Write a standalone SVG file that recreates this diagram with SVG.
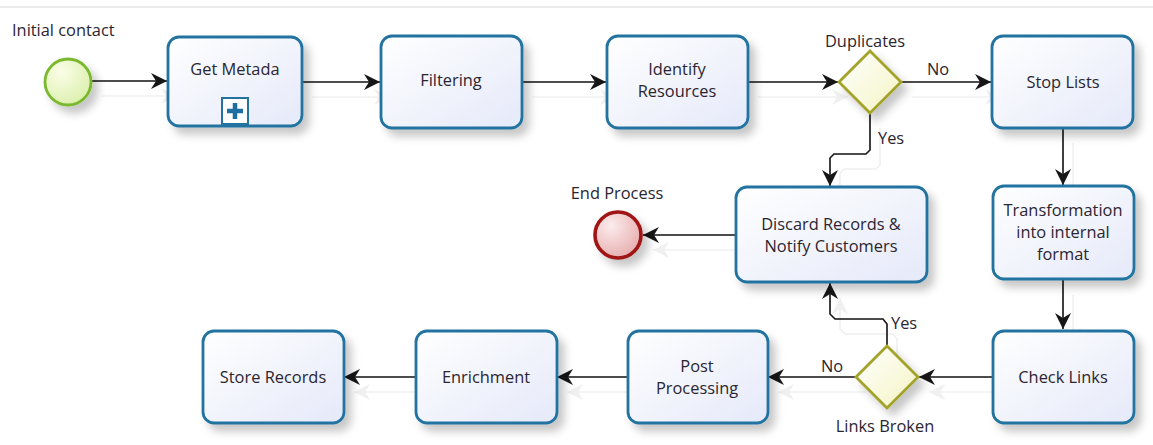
<svg xmlns="http://www.w3.org/2000/svg" width="1153" height="445" viewBox="0 0 1153 445">
<style>
.task{fill:url(#gTask);stroke:#23739f;stroke-width:2.8}
.gw{fill:url(#gGw);stroke:#a3a32c;stroke-width:2.8}
.lbl{font-family:"Open Sans","Noto Sans","Liberation Sans",sans-serif;font-size:16.4px;fill:#2b2530}
.c{text-anchor:middle}
.con{fill:none;stroke:#151515;stroke-width:1.6}
</style>
<defs>
<linearGradient id="gTask" x1="0" y1="0" x2="1" y2="1"><stop offset="0" stop-color="#ffffff"/><stop offset="1" stop-color="#e5e9f9"/></linearGradient>
<linearGradient id="gGw" x1="0" y1="0" x2="1" y2="1"><stop offset="0" stop-color="#ffffff"/><stop offset="1" stop-color="#f4f4c4"/></linearGradient>
<radialGradient id="gStart" cx="0.35" cy="0.3" r="0.8"><stop offset="0" stop-color="#fbfde8"/><stop offset="1" stop-color="#d9efa8"/></radialGradient>
<radialGradient id="gEnd" cx="0.35" cy="0.3" r="0.8"><stop offset="0" stop-color="#fbecec"/><stop offset="1" stop-color="#e6a9aa"/></radialGradient>
<filter id="sh" x="-20%" y="-20%" width="150%" height="160%">
<feGaussianBlur in="SourceAlpha" stdDeviation="4"/>
<feOffset dx="6" dy="7" result="b"/>
<feFlood flood-color="#000" flood-opacity="0.22"/>
<feComposite in2="b" operator="in" result="s"/>
<feMerge><feMergeNode in="s"/><feMergeNode in="SourceGraphic"/></feMerge>
</filter>
<filter id="csh" x="-10%" y="-10%" width="130%" height="140%">
<feOffset in="SourceAlpha" dx="10" dy="15" result="o"/>
<feFlood flood-color="#000" flood-opacity="0.06"/>
<feComposite in2="o" operator="in" result="s"/>
<feMerge><feMergeNode in="s"/><feMergeNode in="SourceGraphic"/></feMerge>
</filter>
<marker id="arr" markerUnits="userSpaceOnUse" markerWidth="18" markerHeight="16" refX="16" refY="8" orient="auto">
<path d="M0,0 L16,8 L0,16 L5,8 Z" fill="#151515"/>
</marker>
</defs>
<line x1="0" y1="7" x2="1153" y2="7" stroke="#d6d6d6" stroke-width="1.2"/>

<g id="connectors" filter="url(#csh)">
<path class="con" d="M92,81 H167" marker-end="url(#arr)"/>
<path class="con" d="M302,82 H380" marker-end="url(#arr)"/>
<path class="con" d="M522,82 H606" marker-end="url(#arr)"/>
<path class="con" d="M748,82 H838" marker-end="url(#arr)"/>
<path class="con" d="M902,82 H991" marker-end="url(#arr)"/>
<path class="con" d="M870,113 V150 L866,154 H834 L830,158 V186" marker-end="url(#arr)"/>
<path class="con" d="M1063,128 V185" marker-end="url(#arr)"/>
<path class="con" d="M1063,280 V329" marker-end="url(#arr)"/>
<path class="con" d="M992,377 H919" marker-end="url(#arr)"/>
<path class="con" d="M856,377 H768" marker-end="url(#arr)"/>
<path class="con" d="M887,346 V324 L883,319 H835 L830,314 V283" marker-end="url(#arr)"/>
<path class="con" d="M736,235 H643" marker-end="url(#arr)"/>
<path class="con" d="M628,377 H557" marker-end="url(#arr)"/>
<path class="con" d="M416,377 H344" marker-end="url(#arr)"/>
</g>

<g id="edge-labels">
<text class="lbl" x="927" y="75">No</text>
<text class="lbl" x="878" y="144">Yes</text>
<text class="lbl" x="821" y="372">No</text>
<text class="lbl" x="891" y="329">Yes</text>
</g>

<g id="start">
<circle cx="68" cy="82" r="23" fill="url(#gStart)" stroke="#7ab92f" stroke-width="2.8" filter="url(#sh)"/>
<text class="lbl" x="12" y="36">Initial contact</text>
</g>

<g id="get-metada">
<rect class="task" x="168" y="37" width="134" height="89" rx="11" filter="url(#sh)"/>
<text class="lbl c" x="235" y="75">Get Metada</text>
<rect x="222" y="98" width="26" height="26" fill="#ffffff" stroke="#23739f" stroke-width="2"/>
<path d="M235,103 V119 M227,111 H243" stroke="#1d6fa3" stroke-width="4.5"/>
</g>

<g id="filtering">
<rect class="task" x="381" y="36" width="141" height="92" rx="11" filter="url(#sh)"/>
<text class="lbl c" x="451" y="86">Filtering</text>
</g>

<g id="identify-resources">
<rect class="task" x="607" y="36" width="141" height="92" rx="11" filter="url(#sh)"/>
<text class="lbl c" x="677" y="75">Identify</text>
<text class="lbl c" x="677" y="97">Resources</text>
</g>

<g id="duplicates">
<path class="gw" d="M870,51 L901,82 L870,113 L839,82 Z" filter="url(#sh)"/>
<text class="lbl c" x="865" y="47">Duplicates</text>
</g>

<g id="stop-lists">
<rect class="task" x="992" y="36" width="141" height="92" rx="11" filter="url(#sh)"/>
<text class="lbl c" x="1063" y="88">Stop Lists</text>
</g>

<g id="transformation">
<rect class="task" x="993" y="186" width="141" height="93" rx="11" filter="url(#sh)"/>
<text class="lbl c" x="1063" y="216">Transformation</text>
<text class="lbl c" x="1063" y="238">into internal</text>
<text class="lbl c" x="1063" y="260">format</text>
</g>

<g id="discard">
<rect class="task" x="736" y="187" width="191" height="95" rx="11" filter="url(#sh)"/>
<text class="lbl c" x="831" y="230">Discard Records &amp;</text>
<text class="lbl c" x="831" y="252">Notify Customers</text>
</g>

<g id="end">
<circle cx="618" cy="235" r="23" fill="url(#gEnd)" stroke="#a01414" stroke-width="3.6" filter="url(#sh)"/>
<text class="lbl c" x="617" y="199">End Process</text>
</g>

<g id="check-links">
<rect class="task" x="993" y="331" width="141" height="92" rx="11" filter="url(#sh)"/>
<text class="lbl c" x="1063" y="383">Check Links</text>
</g>

<g id="links-broken">
<path class="gw" d="M887,346 L918,377 L887,408 L856,377 Z" filter="url(#sh)"/>
<text class="lbl c" x="885" y="432">Links Broken</text>
</g>

<g id="post-processing">
<rect class="task" x="628" y="331" width="140" height="92" rx="11" filter="url(#sh)"/>
<text class="lbl c" x="697" y="372">Post</text>
<text class="lbl c" x="697" y="394">Processing</text>
</g>

<g id="enrichment">
<rect class="task" x="416" y="331" width="141" height="92" rx="11" filter="url(#sh)"/>
<text class="lbl c" x="486" y="383">Enrichment</text>
</g>

<g id="store-records">
<rect class="task" x="203" y="331" width="141" height="92" rx="11" filter="url(#sh)"/>
<text class="lbl c" x="273" y="383">Store Records</text>
</g>
</svg>
